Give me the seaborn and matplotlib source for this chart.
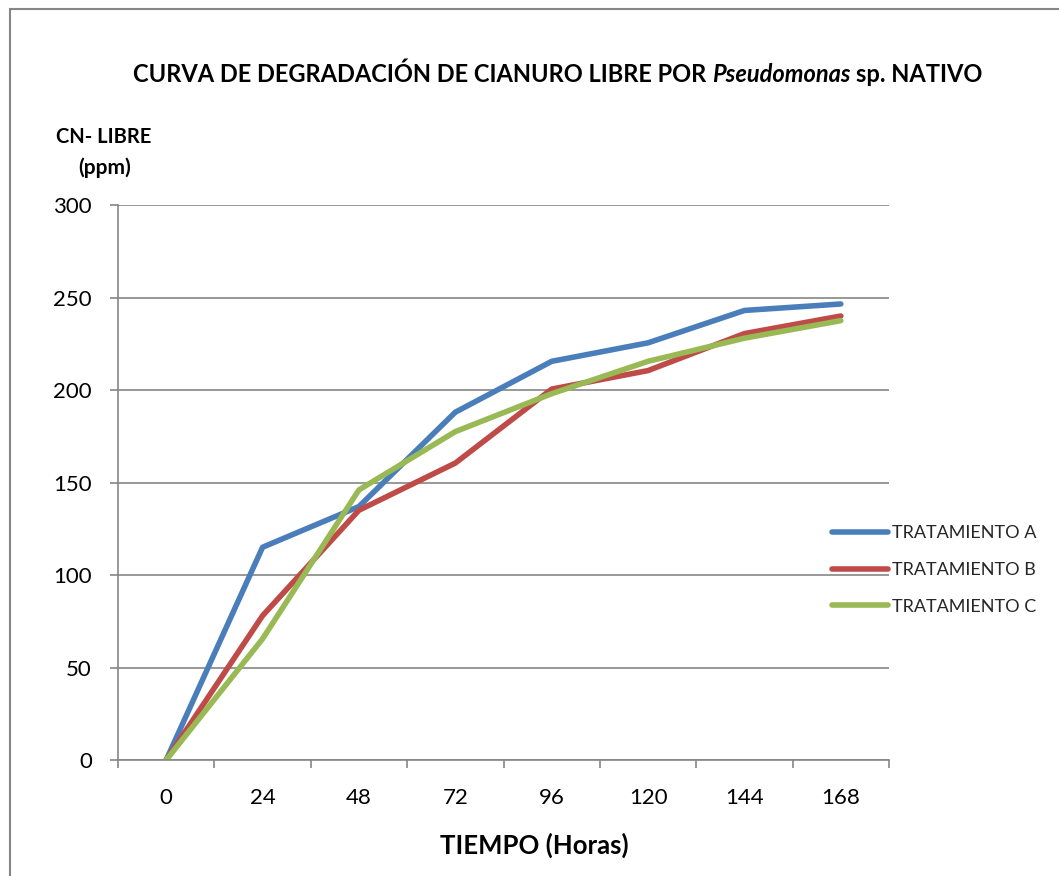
import matplotlib
matplotlib.use("Agg")
import matplotlib.pyplot as plt
import seaborn as sns
import pandas as pd
from matplotlib.patches import Rectangle
from matplotlib.ticker import FixedLocator

# ---- data ----
hours = [0, 24, 48, 72, 96, 120, 144, 168]
trat_a = [0, 115, 137, 188, 215.5, 225.5, 243, 246.5]
trat_b = [0, 78, 135, 160.5, 200.5, 210.5, 230.5, 240]
trat_c = [0, 65.5, 146, 177.5, 198, 215.5, 228, 237.5]
series_names = ["TRATAMIENTO A", "TRATAMIENTO B", "TRATAMIENTO C"]
colors = ["#4A7EBB", "#BE4B48", "#98B954"]
y_ticks = [0, 50, 100, 150, 200, 250, 300]

sns.set_theme(style="white")
plt.rcParams['font.family'] = ['Lato', 'DejaVu Sans']

df = pd.DataFrame({
    "hora": hours * 3,
    "cn": trat_a + trat_b + trat_c,
    "serie": [n for n in series_names for _ in hours],
})

W, H = 1059, 876
fig = plt.figure(figsize=(W / 100, H / 100), dpi=100)
fig.patch.set_facecolor("white")
ax = fig.add_axes([118 / W, (H - 760) / H, (889 - 118) / W, (760 - 205) / H])

LW = 4.0
sns.lineplot(data=df, x="hora", y="cn", hue="serie",
             palette=dict(zip(series_names, colors)), linewidth=LW,
             ax=ax, legend=True, solid_capstyle="round")

gray = "#868686"
ax.set_xlim(-12, 180)
ax.set_ylim(0, 300)
ax.set_xticks(hours)
ax.set_xticklabels([str(h) for h in hours])
ax.xaxis.set_minor_locator(FixedLocator([-12 + 24 * i for i in range(9)]))
ax.set_yticks(y_ticks)
ax.tick_params(axis="x", which="major", length=0, pad=20, labelsize=16, labelcolor="black")
ax.tick_params(axis="x", which="minor", length=5.8, width=1.2, color=gray, direction="out", bottom=True)
ax.tick_params(axis="y", which="major", length=5.8, width=1.2, color=gray, direction="out",
               left=True, pad=13, labelsize=16, labelcolor="black")
ax.yaxis.grid(True, color=gray, linewidth=1.2)
ax.xaxis.grid(False)
ax.set_axisbelow(True)
for s in ["top", "right"]:
    ax.spines[s].set_visible(False)
for s in ["left", "bottom"]:
    ax.spines[s].set_color(gray)
    ax.spines[s].set_linewidth(1.2)
ax.set_xlabel("")
ax.set_ylabel("")

leg = ax.legend(loc="center left", bbox_to_anchor=(832 / W, (H - 570) / H),
                bbox_transform=fig.transFigure, frameon=False, fontsize=13,
                handlelength=3.1, handletextpad=0.2, labelspacing=1.15,
                borderpad=0, borderaxespad=0)
for line in leg.get_lines():
    line.set_linewidth(LW)
    line.set_solid_capstyle("round")

# ---- title with mixed style ----
renderer = fig.canvas.get_renderer()
TFS = 17
ty = (H - 82) / H
parts = [("CURVA DE DEGRADACIÓN DE CIANURO LIBRE POR", "normal"),
         ("Pseudomonas", "italic"),
         ("sp. NATIVO", "normal")]
texts = [fig.text(0, ty, s, fontsize=TFS, fontweight="bold", style=st,
                  va="baseline", ha="left", color="black") for s, st in parts]
t1 = fig.text(0, 0, "AA", fontsize=TFS, fontweight="bold")
t2 = fig.text(0, 0, "A A", fontsize=TFS, fontweight="bold")
sp = t2.get_window_extent(renderer).width - t1.get_window_extent(renderer).width
t1.remove(); t2.remove()
widths = [t.get_window_extent(renderer).width for t in texts]
total = sum(widths) + sp * (len(texts) - 1)
x = 558 - total / 2
for t, w in zip(texts, widths):
    t.set_x(x / W)
    x += w + sp

# ---- axis titles ----
fig.text(104 / W, (H - 137) / H, "CN- LIBRE", fontsize=14.5, fontweight="bold",
         ha="center", va="center", color="black")
fig.text(105 / W, (H - 168) / H, "(ppm)", fontsize=15, fontweight="bold",
         ha="center", va="center", color="black")
fig.text(534 / W, (H - 845) / H, "TIEMPO (Horas)", fontsize=18.5, fontweight="bold",
         ha="center", va="center", color="black")

# ---- chart border (cropped at right/bottom) ----
fig.patches.append(Rectangle((10 / W, -0.1), 1.2, (H - 9) / H + 0.1,
                             transform=fig.transFigure, fill=False,
                             edgecolor=gray, linewidth=1.5, clip_on=False))

fig.savefig("out.png", dpi=100, facecolor="white")
